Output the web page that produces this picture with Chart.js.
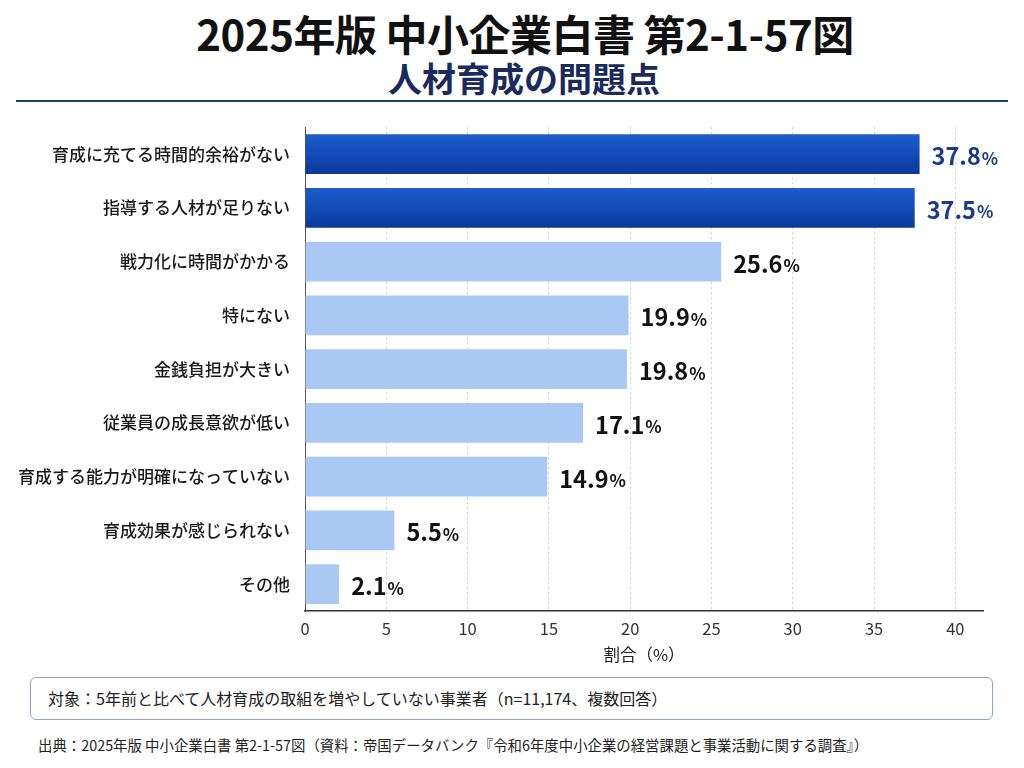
<!DOCTYPE html>
<html lang="ja">
<head>
<meta charset="utf-8">
<script src="https://cdn.jsdelivr.net/npm/chart.js@4/dist/chart.umd.min.js"></script>
<style>
  html, body { margin:0; padding:0; background:#fff; }
  body { width:1024px; height:768px; position:relative; overflow:hidden; font-family:"Noto Sans CJK JP","Noto Sans",sans-serif; }
  #title { position:absolute; top:7px; left:13px; width:1024px; text-align:center; font-size:42px; font-weight:700; color:#111; line-height:52px; letter-spacing:-0.5px; }
  #subtitle { position:absolute; top:58px; left:12px; width:1024px; text-align:center; font-size:34px; font-weight:700; color:#1b2a5c; line-height:40px; }
  #rule { position:absolute; top:100px; left:16px; width:992px; height:2px; background:#1f3f7a; }
  #wrap { position:absolute; top:102px; left:0; width:1024px; height:568px; }
  #note { position:absolute; left:30px; top:677px; width:963px; height:43px; border:1.5px solid #8fa3c8; border-radius:6px; box-sizing:border-box; font-size:16px; color:#222; line-height:40px; padding-left:17px; }
  #source { position:absolute; left:38px; top:734px; font-size:14.4px; color:#222; line-height:22px; }
</style>
</head>
<body>
<div id="title">2025年版 中小企業白書 第2-1-57図</div>
<div id="subtitle">人材育成の問題点</div>
<div id="rule"></div>
<div id="wrap"><canvas id="c" width="1024" height="568"></canvas></div>
<div id="note">対象：5年前と比べて人材育成の取組を増やしていない事業者（n=11,174、複数回答）</div>
<div id="source">出典：2025年版 中小企業白書 第2-1-57図（資料：帝国データバンク『令和6年度中小企業の経営課題と事業活動に関する調査』）</div>
<script>
const categories = [
  "育成に充てる時間的余裕がない",
  "指導する人材が足りない",
  "戦力化に時間がかかる",
  "特にない",
  "金銭負担が大きい",
  "従業員の成長意欲が低い",
  "育成する能力が明確になっていない",
  "育成効果が感じられない",
  "その他"
];
const values = [37.8, 37.5, 25.6, 19.9, 19.8, 17.1, 14.9, 5.5, 2.1];
const highlightCount = 2;
const xTicks = [0, 5, 10, 15, 20, 25, 30, 35, 40];

const FONT = '"Noto Sans CJK JP","Noto Sans",sans-serif';

function barColor(ctx) {
  const i = ctx.dataIndex;
  if (i >= highlightCount) return '#a9c8f4';
  const chart = ctx.chart;
  const ys = chart.scales && chart.scales.y;
  if (!ys || !chart.chartArea) return '#1148b4';
  const yc = ys.getPixelForTick(i);
  const g = chart.ctx.createLinearGradient(0, yc - 20, 0, yc + 20);
  g.addColorStop(0, '#1d5ccc');
  g.addColorStop(0.5, '#124cb8');
  g.addColorStop(1, '#0a3896');
  return g;
}

const valueLabels = {
  id: 'valueLabels',
  afterDatasetsDraw(chart) {
    const c = chart.ctx;
    const meta = chart.getDatasetMeta(0);
    c.save();
    c.textBaseline = 'middle';
    c.textAlign = 'left';
    meta.data.forEach((bar, i) => {
      const color = i < highlightCount ? '#1b3a8c' : '#111';
      const num = values[i].toFixed(1);
      c.fillStyle = color;
      c.font = '700 23.5px ' + FONT;
      const x = bar.x + 12;
      const y = bar.y + 2;
      c.fillText(num, x, y);
      const w = c.measureText(num).width;
      c.font = '700 17px ' + FONT;
      c.fillText('%', x + w + 1, y + 2);
    });
    c.restore();
  }
};

new Chart(document.getElementById('c'), {
  type: 'bar',
  data: {
    labels: categories,
    datasets: [{
      data: values,
      backgroundColor: barColor,
      borderWidth: 0,
      barPercentage: 0.74,
      categoryPercentage: 1.0
    }]
  },
  options: {
    indexAxis: 'y',
    responsive: false,
    animation: false,
    devicePixelRatio: 1,
    layout: { padding: { top: 0, right: 41, left: 0, bottom: 0 } },
    plugins: { legend: { display: false }, tooltip: { enabled: false } },
    scales: {
      x: {
        min: 0,
        max: 41.7,
        afterBuildTicks(scale) { scale.ticks = xTicks.map(v => ({ value: v })); },
        afterFit(scale) { scale.height = 59; },
        ticks: { color: '#333', font: { family: FONT, size: 16.5 }, padding: 8 },
        grid: { color: '#cfcfcf', lineWidth: 1, drawTicks: false },
        border: { display: true, color: '#333', width: 1.5, dash: [2, 3] },
        title: { display: true, text: '割合（%）', color: '#222', font: { family: FONT, size: 16.5 }, padding: { top: 2, bottom: 5 } }
      },
      y: {
        afterFit(scale) { scale.width = 305; },
        ticks: { color: '#1a1a1a', font: { family: FONT, size: 17, weight: '500' }, padding: 15, autoSkip: false },
        grid: { display: false, drawTicks: false },
        border: { display: true, color: '#555', width: 1 }
      }
    }
  },
  plugins: [valueLabels]
});
</script>
</body>
</html>
